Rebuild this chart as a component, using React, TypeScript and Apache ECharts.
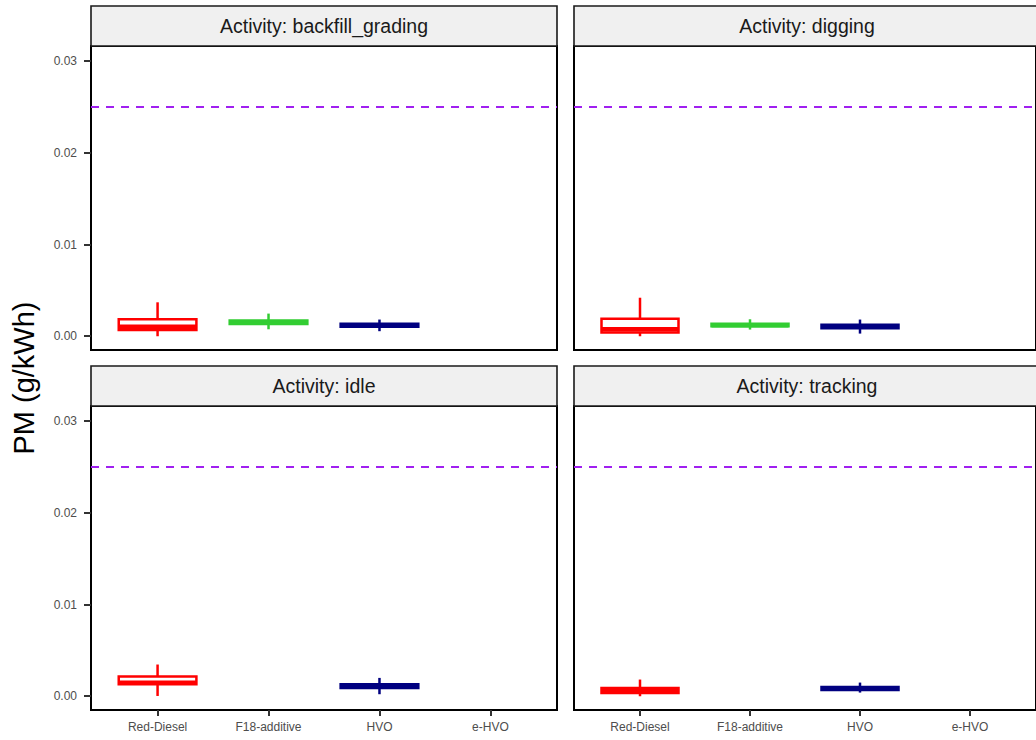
import React, { useEffect, useRef } from "react";
import * as echarts from "echarts";

// Fuels on the x axis, in plotting order
const FUELS = ["Red-Diesel", "F18-additive", "HVO", "e-HVO"];
const FUEL_COLORS = ["#ff0000", "#32cd32", "#000080", "#8b4513"];

// Facet panels
const ACTIVITIES = ["backfill_grading", "digging", "idle", "tracking"];

// Box statistics per activity: [fuelIndex, low whisker, Q1, median, Q3, high whisker] in g/kWh
const BACKFILL_GRADING = [
  [0, 0.0, 0.00069, 0.00104, 0.00185, 0.0037],
  [1, 0.00076, 0.00134, 0.00152, 0.00171, 0.00247],
  [2, 0.00055, 0.00104, 0.0012, 0.00136, 0.00182],
];
const DIGGING = [
  [0, 0.0, 0.0004, 0.00075, 0.00191, 0.0042],
  [1, 0.00073, 0.00109, 0.0012, 0.00136, 0.00185],
  [2, 0.00029, 0.00087, 0.00105, 0.00125, 0.00182],
];
const IDLE = [
  [0, 0.00003, 0.00131, 0.00147, 0.00216, 0.00346],
  [2, 0.00022, 0.0009, 0.0011, 0.00131, 0.002],
];
const TRACKING = [
  [0, 0.0, 0.00036, 0.0006, 0.0009, 0.00182],
  [2, 0.0004, 0.00069, 0.00085, 0.00101, 0.00149],
];
const PANEL_DATA = [BACKFILL_GRADING, DIGGING, IDLE, TRACKING];

// PM limit reference line
const PM_LIMIT = 0.025;

// Axis ticks
const Y_TICKS = [0, 0.01, 0.02, 0.03];
const Y_MIN = -0.0015;
const Y_MAX = 0.03165;
const X_TICKS = [0, 1, 2, 3];
const X_MIN = -0.6;
const X_MAX = 3.6;

// Layout of the 2x2 facet grid
const PANEL_LEFT = [91, 574, 91, 574];
const PANEL_TOP = [46, 46, 406, 406];
const PANEL_W = 466;
const PANEL_H = 304;
const STRIP_H = 40;
const BOX_WIDTH = 0.7;

const FONT = "Liberation Sans, Arial, sans-serif";

function renderBox(params: any, api: any) {
  const x = api.value(0);
  const low = api.coord([x, api.value(1)]);
  const q1 = api.coord([x, api.value(2)]);
  const med = api.coord([x, api.value(3)]);
  const q3 = api.coord([x, api.value(4)]);
  const high = api.coord([x, api.value(5)]);
  const half = api.size([BOX_WIDTH, 0])[0] / 2;
  const cx = med[0];
  const color = FUEL_COLORS[x];
  const lineStyle = { stroke: color, lineWidth: 2.5 };
  return {
    type: "group",
    children: [
      { type: "line", shape: { x1: cx, y1: q3[1], x2: cx, y2: high[1] }, style: lineStyle },
      { type: "line", shape: { x1: cx, y1: q1[1], x2: cx, y2: low[1] }, style: lineStyle },
      {
        type: "rect",
        shape: { x: cx - half, y: q3[1], width: half * 2, height: q1[1] - q3[1] },
        style: { fill: "#ffffff", stroke: color, lineWidth: 2.5 },
      },
      {
        type: "line",
        shape: { x1: cx - half, y1: med[1], x2: cx + half, y2: med[1] },
        style: { stroke: color, lineWidth: 4.5 },
      },
    ],
  };
}

export default function App() {
  const ref = useRef<HTMLDivElement>(null);

  useEffect(() => {
    if (!ref.current) return;
    const chart = echarts.init(ref.current, undefined, { renderer: "svg" });

    const grids = ACTIVITIES.map((_, i) => ({
      left: PANEL_LEFT[i],
      top: PANEL_TOP[i],
      width: PANEL_W,
      height: PANEL_H,
      show: true,
      backgroundColor: "#ffffff",
      borderColor: "#000000",
      borderWidth: 2,
    }));

    const xAxes = ACTIVITIES.map((_, i) => {
      const bottom = i >= 2;
      return {
        type: "value",
        gridIndex: i,
        position: "bottom",
        min: X_MIN,
        max: X_MAX,
        axisLine: { show: false, onZero: false },
        splitLine: { show: false },
        axisTick: {
          show: bottom,
          customValues: X_TICKS,
          length: 6,
          lineStyle: { color: "#333333", width: 2 },
        },
        axisLabel: {
          show: bottom,
          customValues: X_TICKS,
          formatter: (v: number) => FUELS[Math.round(v)],
          fontSize: 12,
          color: "#4d4d4d",
          margin: 11,
          fontFamily: FONT,
        },
      };
    });

    const yAxes = ACTIVITIES.map((_, i) => {
      const left = i % 2 === 0;
      return {
        type: "value",
        gridIndex: i,
        position: "left",
        min: Y_MIN,
        max: Y_MAX,
        axisLine: { show: false, onZero: false },
        splitLine: { show: false },
        axisTick: {
          show: left,
          customValues: Y_TICKS,
          length: 7,
          lineStyle: { color: "#333333", width: 2 },
        },
        axisLabel: {
          show: left,
          customValues: Y_TICKS,
          formatter: (v: number) => v.toFixed(2),
          fontSize: 12,
          color: "#4d4d4d",
          margin: 14,
          fontFamily: FONT,
        },
      };
    });

    const series: any[] = [];
    ACTIVITIES.forEach((name, i) => {
      // dashed PM limit across the whole panel
      series.push({
        type: "line",
        name: name + " limit",
        xAxisIndex: i,
        yAxisIndex: i,
        data: [
          [X_MIN, PM_LIMIT],
          [X_MAX, PM_LIMIT],
        ],
        symbol: "none",
        silent: true,
        lineStyle: { color: "#a020f0", type: [8, 7], width: 1.8 },
      });
      series.push({
        type: "custom",
        name,
        xAxisIndex: i,
        yAxisIndex: i,
        renderItem: renderBox,
        data: PANEL_DATA[i],
        encode: { x: 0, y: [1, 2, 3, 4, 5] },
        silent: true,
      });
    });

    const graphics: any[] = [];
    ACTIVITIES.forEach((name, i) => {
      graphics.push({
        type: "rect",
        shape: {
          x: PANEL_LEFT[i],
          y: PANEL_TOP[i] - STRIP_H,
          width: PANEL_W,
          height: STRIP_H,
        },
        style: { fill: "#f0f0f0", stroke: "#1a1a1a", lineWidth: 1.6 },
      });
      graphics.push({
        type: "text",
        x: PANEL_LEFT[i] + PANEL_W / 2,
        y: PANEL_TOP[i] - STRIP_H / 2,
        style: {
          text: "Activity: " + name,
          fontSize: 19.5,
          fontFamily: FONT,
          fill: "#1a1a1a",
          align: "center",
          verticalAlign: "middle",
        },
      });
    });
    graphics.push({
      type: "text",
      x: 24,
      y: (PANEL_TOP[0] + PANEL_TOP[2] + PANEL_H) / 2,
      rotation: Math.PI / 2,
      style: {
        text: "PM (g/kWh)",
        fontSize: 29,
        fontFamily: FONT,
        fill: "#000000",
        align: "center",
        verticalAlign: "middle",
      },
    });

    chart.setOption({
      animation: false,
      backgroundColor: "#ffffff",
      textStyle: { fontFamily: FONT },
      grid: grids,
      xAxis: xAxes,
      yAxis: yAxes,
      series,
      graphic: graphics,
    });

    return () => chart.dispose();
  }, []);

  return (
    <div
      ref={ref}
      style={{ position: "fixed", left: 0, top: 0, width: 1036, height: 740 }}
    />
  );
}
